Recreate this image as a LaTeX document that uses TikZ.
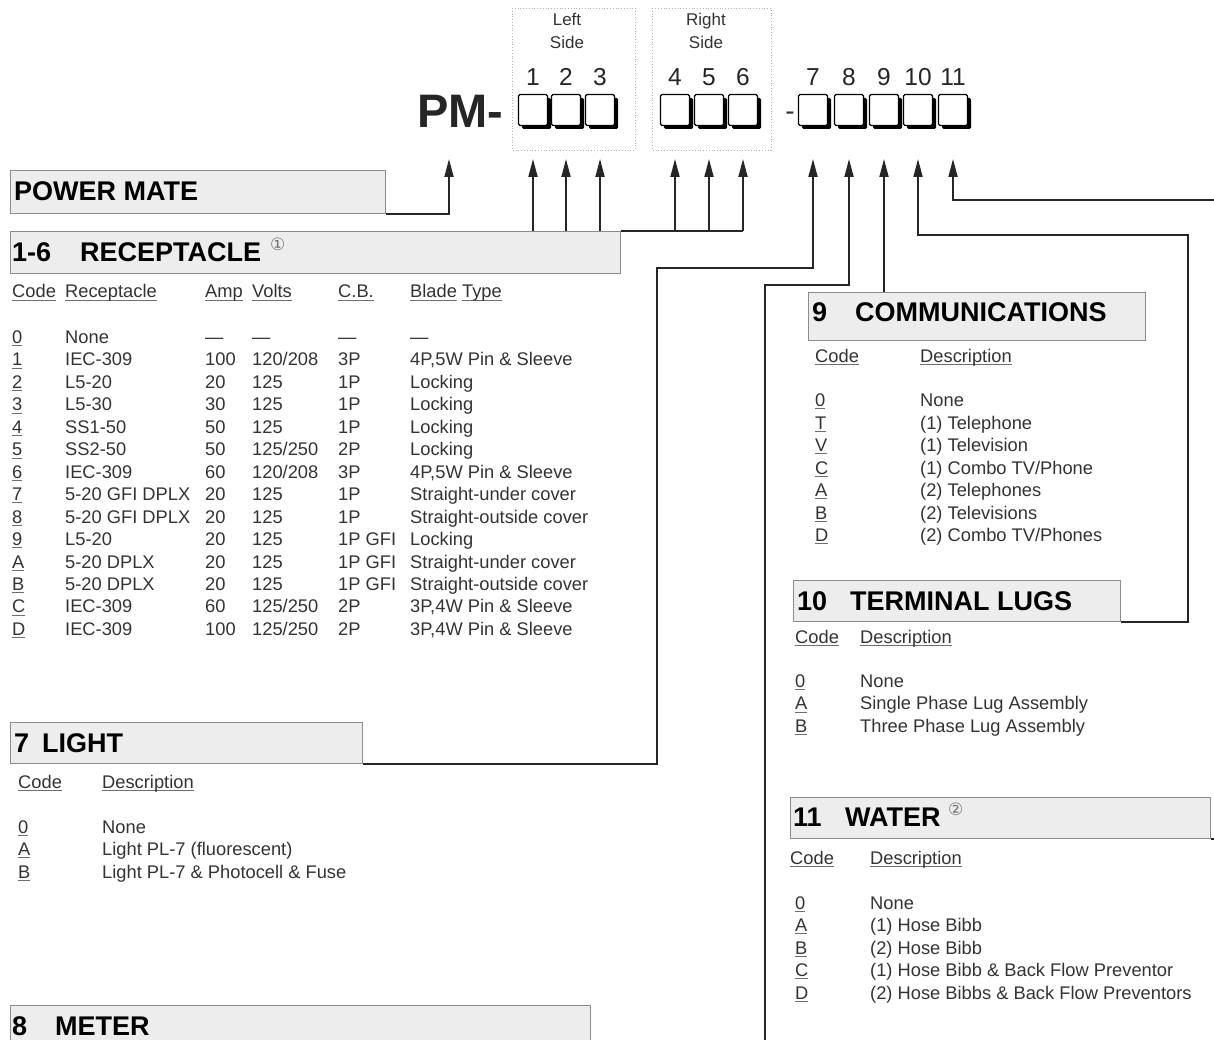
\documentclass[tikz,border=0pt]{standalone}
\usepackage{fontspec}
\setmainfont{Liberation Sans}
\newfontfamily\symfont{DejaVu Sans}
\usetikzlibrary{arrows.meta,shadows}
\definecolor{txt}{HTML}{333333}
\definecolor{hdfill}{HTML}{EDEDED}
\definecolor{hdline}{HTML}{8C8C8C}
\definecolor{ulc}{HTML}{6E6E6E}
\newcommand\ulin[1]{\setbox0\hbox{#1}\rlap{\textcolor{ulc}{\rule[-2.8pt]{\wd0}{1pt}}}\box0}
\tikzset{
  body/.style={anchor=base west, inner sep=0pt, text=txt, font=\fontsize{18.3}{22}\selectfont},
  head/.style={anchor=base west, inner sep=0pt, text=black, font=\fontsize{27}{30}\selectfont\bfseries},
  circ/.style={anchor=base west, inner sep=0pt, text=black!55, font=\symfont\fontsize{17}{17}\selectfont},
  hbox/.style={draw=hdline, fill=hdfill, line width=1.2pt, inner sep=0pt, anchor=north west},
  conn/.style={line width=1.8pt, draw=black!85},
  arr/.style={conn, -{Triangle[length=18pt,width=9pt]}},
  digbox/.style={draw=black, line width=1.3pt, fill=white, minimum width=29pt, minimum height=31pt, inner sep=0pt, rounded corners=1.5pt, drop shadow={shadow xshift=3.5pt, shadow yshift=-3.5pt, fill=black, opacity=1}},
  sidebox/.style={draw=gray!60, dotted, line width=0.8pt},
  num/.style={anchor=base, inner sep=0pt, font=\fontsize{24.5}{26}\selectfont, text=black!85},
  side/.style={anchor=base, inner sep=0pt, font=\fontsize{17}{18}\selectfont, text=txt}
}
\begin{document}
\begin{tikzpicture}[x=1pt,y=-1pt]
\useasboundingbox (0,0) rectangle (1214,1040);
\fill[white] (0,0) rectangle (1214,1040);
\clip (0,0) rectangle (1214,1040);

% ---- code template ----
\draw[sidebox] (512,8) rectangle (635,150);
\draw[sidebox] (652,8) rectangle (771,150);
\node[side] (ls1) at (567,26) {Left};
\node[side] (ls2) at (567,49) {Side};
\node[side] (rs1) at (706,26) {Right};
\node[side] (rs2) at (706,49) {Side};
\node[anchor=base west, inner sep=0pt, font=\fontsize{47}{49}\selectfont\bfseries, text=black!85] (pm) at (417,128) {PM-};
\node[anchor=base, inner sep=0pt, font=\fontsize{28}{30}\selectfont, text=txt] (dash) at (790,121) {-};
\foreach \i/\x in {1/533,2/566,3/600,4/675,5/709,6/743,7/813,8/849,9/884,10/918,11/953}{
  \node[digbox] (b\i) at (\x,110) {};
  \node[num] (n\i) at (\x,86) {\i};
  \coordinate (t\i) at (\x,159);
}
\coordinate (tpm) at (449,159);

% ---- heading boxes ----
\node[hbox, minimum width=375pt, minimum height=43pt] (pmb) at (10,170) {};
\node[hbox, minimum width=610pt, minimum height=42pt] (recb) at (10,231) {};
\node[hbox, minimum width=352pt, minimum height=41pt] (lightb) at (10,722) {};
\node[hbox, minimum width=580pt, minimum height=45pt] (meterb) at (10,1005) {};
\node[hbox, minimum width=337pt, minimum height=48pt] (commb) at (808,292) {};
\node[hbox, minimum width=327pt, minimum height=41pt] (termb) at (793,580) {};
\node[hbox, minimum width=420pt, minimum height=41pt] (waterb) at (790,797) {};

\node[head] (hpm) at (14,201) {POWER MATE};
\node[head] (hrec1) at (12,262) {1-6};
\node[head] (hrec2) at (80,262) {RECEPTACLE};
\node[circ] (c1) at (270,251) {①};
\node[head] (hl1) at (14,752) {7};
\node[head] (hl2) at (42,752) {LIGHT};
\node[head] (hm1) at (12,1035) {8};
\node[head] (hm2) at (55,1035) {METER};
\node[head] (hc1) at (812,321) {9};
\node[head] (hc2) at (855,321) {COMMUNICATIONS};
\node[head] (ht1) at (797,610) {10};
\node[head] (ht2) at (850,610) {TERMINAL LUGS};
\node[head] (hw1) at (793,826) {11};
\node[head] (hw2) at (845,826) {WATER};
\node[circ] (c2) at (948,815) {②};

% ---- connectors ----
\draw[arr] (pmb.south east) -| (tpm);
\foreach \i in {1,2,3}{ \draw[arr] (recb.north -| t\i) -- (t\i); }
\draw[conn] (recb.north east) -- (recb.north east -| t6);
\foreach \i in {4,5,6}{ \draw[arr] (recb.north east -| t\i) -- (t\i); }
\coordinate (j7) at (657,268);
\draw[arr] (lightb.south east) -| (j7) -| (t7);
\coordinate (j8) at (765,285);
\draw[arr] (meterb.south east) -| (j8) -| (t8);
\draw[arr] (commb.north -| t9) -- (t9);
\coordinate (j10) at (1188,235);
\draw[arr] (termb.south east) -| (j10) -| (t10);
\coordinate (j11) at (1226,200);
\draw[arr] (waterb.south east) -| (j11) -| (t11);

% ---- receptacle table ----
\node[body] (rh1) at (12,298) {\ulin{Code}};
\node[body] (rh2) at (65,298) {\ulin{Receptacle}};
\node[body] (rh3) at (205,298) {\ulin{Amp}};
\node[body] (rh4) at (252,298) {\ulin{Volts}};
\node[body] (rh5) at (338,298) {\ulin{C.B.}};
\node[body] (rh6) at (410,298) {\ulin{Blade}~\ulin{Type}};
\foreach \c/\r/\a/\v/\cb/\bt [count=\i from 0] in {
  0/None/---/---/---/---,
  1/IEC-309/100/120\slash208/3P/{4P,5W Pin \& Sleeve},
  2/L5-20/20/125/1P/Locking,
  3/L5-30/30/125/1P/Locking,
  4/SS1-50/50/125/1P/Locking,
  5/SS2-50/50/125\slash250/2P/Locking,
  6/IEC-309/60/120\slash208/3P/{4P,5W Pin \& Sleeve},
  7/5-20 GFI DPLX/20/125/1P/Straight-under cover,
  8/5-20 GFI DPLX/20/125/1P/Straight-outside cover,
  9/L5-20/20/125/1P GFI/Locking,
  A/5-20 DPLX/20/125/1P GFI/Straight-under cover,
  B/5-20 DPLX/20/125/1P GFI/Straight-outside cover,
  C/IEC-309/60/125\slash250/2P/{3P,4W Pin \& Sleeve},
  D/IEC-309/100/125\slash250/2P/{3P,4W Pin \& Sleeve}}{
  \pgfmathsetmacro\yy{343.5+22.45*\i}
  \node[body] (rc\i) at (12,\yy) {\ulin{\c}};
  \node[body] (rr\i) at (65,\yy) {\r};
  \node[body] (ra\i) at (205,\yy) {\a};
  \node[body] (rv\i) at (252,\yy) {\v};
  \node[body] (rb\i) at (338,\yy) {\cb};
  \node[body] (rt\i) at (410,\yy) {\bt};
}

% ---- light table ----
\node[body] (lh1) at (18,788) {\ulin{Code}};
\node[body] (lh2) at (102,788) {\ulin{Description}};
\foreach \c/\d [count=\i from 0] in {0/None,A/Light PL-7 (fluorescent),B/Light PL-7 \& Photocell \& Fuse}{
  \pgfmathsetmacro\yy{833+22.5*\i}
  \node[body] (lc\i) at (18,\yy) {\ulin{\c}};
  \node[body] (ld\i) at (102,\yy) {\d};
}

% ---- communications table ----
\node[body] (ch1) at (815,362) {\ulin{Code}};
\node[body] (ch2) at (920,362) {\ulin{Description}};
\foreach \c/\d [count=\i from 0] in {0/None,T/(1) Telephone,V/(1) Television,C/(1) Combo TV\slash Phone,A/(2) Telephones,B/(2) Televisions,D/(2) Combo TV\slash Phones}{
  \pgfmathsetmacro\yy{406.5+22.5*\i}
  \node[body] (cc\i) at (815,\yy) {\ulin{\c}};
  \node[body] (cd\i) at (920,\yy) {\d};
}

% ---- terminal lugs table ----
\node[body] (th1) at (795,643) {\ulin{Code}};
\node[body] (th2) at (860,643) {\ulin{Description}};
\foreach \c/\d [count=\i from 0] in {0/None,A/Single Phase Lug Assembly,B/Three Phase Lug Assembly}{
  \pgfmathsetmacro\yy{687+22.8*\i}
  \node[body] (tc\i) at (795,\yy) {\ulin{\c}};
  \node[body] (td\i) at (860,\yy) {\d};
}

% ---- water table ----
\node[body] (wh1) at (790,864) {\ulin{Code}};
\node[body] (wh2) at (870,864) {\ulin{Description}};
\foreach \c/\d [count=\i from 0] in {0/None,A/(1) Hose Bibb,B/(2) Hose Bibb,C/(1) Hose Bibb \& Back Flow Preventor,D/(2) Hose Bibbs \& Back Flow Preventors}{
  \pgfmathsetmacro\yy{909+22.5*\i}
  \node[body] (wc\i) at (795,\yy) {\ulin{\c}};
  \node[body] (wd\i) at (870,\yy) {\d};
}
\end{tikzpicture}
\end{document}
